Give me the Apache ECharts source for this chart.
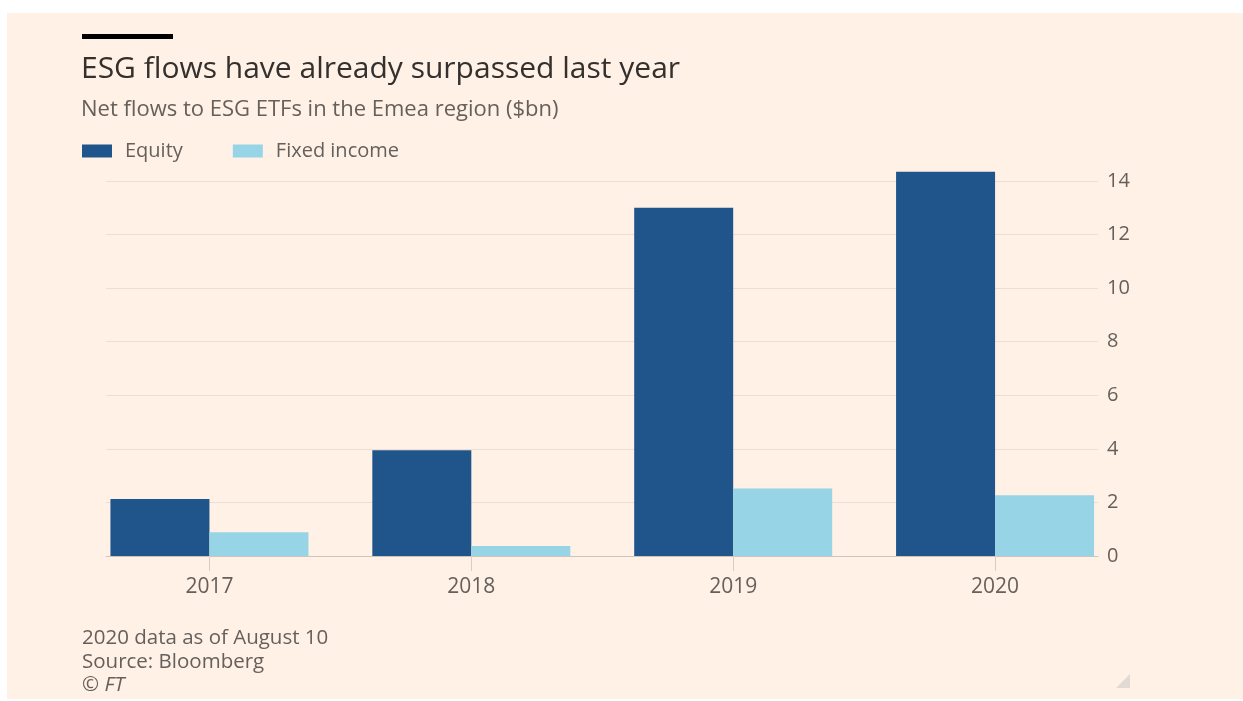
<!DOCTYPE html>
<html>
<head>
<meta charset="utf-8">
<script src="https://cdn.jsdelivr.net/npm/echarts@6/dist/echarts.min.js"></script>
<style>
html,body{margin:0;padding:0;background:#fff;width:1243px;height:701px;overflow:hidden;}
#bg{position:absolute;left:7px;top:13px;width:1236px;height:686px;background:#FFF1E5;}
#chart{position:absolute;left:0;top:0;width:1243px;height:701px;}
</style>
</head>
<body>
<div id="bg"></div>
<div id="chart"></div>
<script>
const categories = ['2017', '2018', '2019', '2020'];
const equity = [2.13, 3.95, 13.0, 14.35];
const fixedIncome = [0.89, 0.37, 2.52, 2.27];
const yTicks = [0, 2, 4, 6, 8, 10, 12, 14];

const FONT = 'Open Sans';
const GREY = '#66605C';

const chart = echarts.init(document.getElementById('chart'), null, {renderer: 'canvas'});
chart.setOption({
  backgroundColor: 'transparent',
  animation: false,
  textStyle: {fontFamily: FONT},
  title: [
    {text: 'ESG flows have already surpassed last year', left: 76, top: 49,
     textStyle: {fontFamily: FONT, fontSize: 30, fontWeight: 'normal', color: '#33302E'}},
    {text: 'Net flows to ESG ETFs in the Emea region ($bn)', left: 76, top: 94,
     textStyle: {fontFamily: FONT, fontSize: 22, fontWeight: 'normal', color: GREY}}
  ],
  legend: {
    left: 77, top: 136, itemWidth: 30, itemHeight: 13, itemGap: 50,
    icon: 'rect',
    textStyle: {fontFamily: FONT, fontSize: 20, color: GREY, padding: [0, 0, 0, 8]},
    data: ['Equity', 'Fixed income']
  },
  grid: [
    {left: 78.5, right: 117, top: 181, bottom: 145, containLabel: false},
    {left: 106, right: 145, top: 181, bottom: 145, containLabel: false}
  ],
  xAxis: [
    {type: 'category', gridIndex: 0, data: categories,
     axisLine: {show: false},
     axisTick: {show: true, alignWithLabel: true, length: 15, lineStyle: {color: '#D9CEC4'}},
     axisLabel: {color: GREY, fontSize: 21, margin: 21, fontFamily: FONT}},
    {type: 'value', gridIndex: 1, min: 0, max: 1, show: true,
     axisLine: {show: true, lineStyle: {color: '#CFC5BC', width: 1}},
     axisTick: {show: false}, axisLabel: {show: false}, splitLine: {show: false}}
  ],
  yAxis: [
    {type: 'value', gridIndex: 0, min: 0, max: 14, interval: 2, show: false},
    {type: 'value', gridIndex: 1, min: 0, max: 14, interval: 2, position: 'right',
     axisLine: {show: false}, axisTick: {show: false},
     axisLabel: {color: GREY, fontSize: 20, margin: 9, fontFamily: FONT, padding: [3, 0, 0, 0],
       formatter: v => yTicks.includes(v) ? String(v) : ''},
     splitLine: {show: true, lineStyle: {color: '#EADFD5', width: 1}}}
  ],
  series: [
    {name: 'Equity', type: 'bar', xAxisIndex: 0, yAxisIndex: 0, data: equity,
     barWidth: 99, barGap: '0%', clip: false, itemStyle: {color: '#20558B'}},
    {name: 'Fixed income', type: 'bar', xAxisIndex: 0, yAxisIndex: 0, data: fixedIncome,
     barWidth: 99, barGap: '0%', clip: false, itemStyle: {color: '#96D4E6'}}
  ],
  graphic: [
    {type: 'rect', shape: {x: 82, y: 34, width: 91, height: 5}, style: {fill: '#000'}},
    {type: 'text', left: 82, top: 628, style: {text: '2020 data as of August 10', fill: GREY, font: '20.5px "' + FONT + '"'}},
    {type: 'text', left: 82, top: 652, style: {text: 'Source: Bloomberg', fill: GREY, font: '20.5px "' + FONT + '"'}},
    {type: 'text', left: 82, top: 675, style: {text: '© FT', fill: GREY, font: 'italic 20.5px "' + FONT + '"'}},
    {type: 'polygon', shape: {points: [[1130, 674], [1130, 688], [1116, 688]]}, style: {fill: '#E2DAD2'}}
  ]
});
</script>
</body>
</html>
